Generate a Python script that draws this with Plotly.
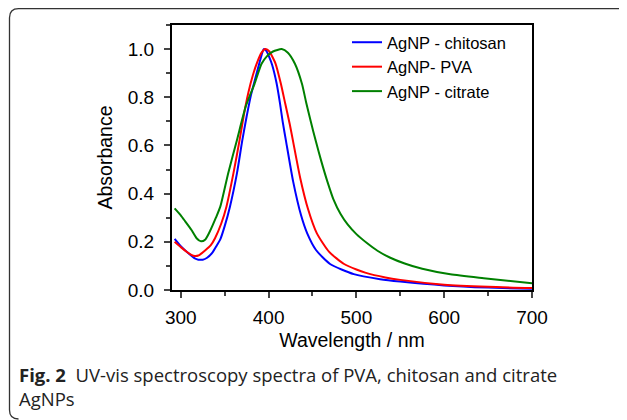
import plotly.graph_objects as go

# ---- data ----
wl_chitosan = [293, 300, 310, 316, 320, 325, 330, 336, 341, 345, 350, 356, 364, 370, 375, 380, 385, 389, 392, 394.5, 397, 401, 404, 409,
               413, 416, 420, 428, 437, 444, 454, 470, 497, 527, 550, 600, 650, 700]
abs_chitosan = [0.212, 0.182, 0.148, 0.131, 0.126, 0.126, 0.134, 0.155, 0.185, 0.21, 0.265, 0.346, 0.485, 0.62, 0.72, 0.81, 0.88, 0.935, 0.975, 1.0, 0.995, 0.965, 0.935, 0.86,
                0.775, 0.70, 0.615, 0.45, 0.31, 0.235, 0.166, 0.108, 0.066, 0.045, 0.035, 0.019, 0.010, 0.005]

wl_pva = [293, 300, 307, 312, 316, 320, 328, 334, 339, 346, 352, 360, 367, 372, 377, 382, 387, 392, 396.5, 401, 404, 408,
          414, 419, 424, 428, 436, 445, 455, 469, 486, 500, 510, 533, 550, 600, 650, 700]
abs_pva = [0.200, 0.178, 0.158, 0.146, 0.141, 0.143, 0.165, 0.185, 0.215, 0.275, 0.346, 0.485, 0.623, 0.73, 0.82, 0.89, 0.945, 0.985, 1.0, 0.99, 0.97, 0.939,
           0.856, 0.773, 0.69, 0.615, 0.465, 0.335, 0.235, 0.158, 0.108, 0.085, 0.072, 0.052, 0.042, 0.022, 0.013, 0.008]

wl_citrate = [293, 300, 305, 312, 318, 323, 328, 334, 340, 345, 354, 364, 374, 384, 392, 398, 405, 415, 422, 430, 438, 443,
              448, 454, 460, 467, 474, 482, 490, 500, 512, 524, 538, 555, 575, 607, 645, 700]
abs_citrate = [0.339, 0.31, 0.285, 0.25, 0.215, 0.202, 0.21, 0.25, 0.30, 0.346, 0.485, 0.623, 0.762, 0.856, 0.939, 0.97, 0.99, 1.0, 0.985, 0.939, 0.856, 0.775,
               0.70, 0.615, 0.535, 0.45, 0.375, 0.315, 0.272, 0.232, 0.195, 0.163, 0.135, 0.11, 0.088, 0.065, 0.049, 0.028]

series_names = ["AgNP - chitosan", "AgNP- PVA", "AgNP - citrate"]
series_colors = ["#0000FF", "#FF0000", "#008000"]

x_ticks = [300, 400, 500, 600, 700]
y_ticks = [0.0, 0.2, 0.4, 0.6, 0.8, 1.0]
y_ticklabels = ["0.0", "0.2", "0.4", "0.6", "0.8", "1.0"]

caption = "<b>Fig. 2</b>  UV-vis spectroscopy spectra of PVA, chitosan and citrate<br>AgNPs"

# ---- figure (page body has an 8px margin) ----
W, H = 619, 412
L, R, T, B = 164, 95, 17, 130
pw, ph = W - L - R, H - T - B

def px(x):
    return (x - L) / pw

def py(y):
    return (H - B - y) / ph

fig = go.Figure()
for wl, ab, name, col in zip([wl_chitosan, wl_pva, wl_citrate],
                             [abs_chitosan, abs_pva, abs_citrate],
                             series_names, series_colors):
    fig.add_trace(go.Scatter(x=wl, y=ab, mode="lines", name=name,
                             line=dict(color=col, width=2, shape="spline", smoothing=0.6)))

sans = "Liberation Sans, Arial, sans-serif"
tick_font = dict(family=sans, size=19, color="#000")
title_font = dict(family=sans, size=19.5, color="#000")

fig.update_layout(
    width=W, height=H,
    margin=dict(l=L, r=R, t=T, b=B),
    paper_bgcolor="white", plot_bgcolor="white",
    font=dict(family=sans, size=16, color="#000"),
    showlegend=True,
    legend=dict(x=px(339), y=py(17), xanchor="left", yanchor="top", bgcolor="rgba(0,0,0,0)",
                font=dict(family=sans, size=16.5, color="#000"), tracegroupgap=0),
    xaxis=dict(range=[290, 700], tickvals=x_ticks, ticks="outside", ticklen=6, tickwidth=1.5,
               showline=True, linecolor="black", linewidth=2, mirror=True, showgrid=False, zeroline=False,
               minor=dict(dtick=50, ticks="outside", ticklen=4, tickwidth=1.5, showgrid=False),
               ticklabelstandoff=3,
               title=dict(text="Wavelength / nm", standoff=7, font=title_font), tickfont=tick_font),
    yaxis=dict(range=[0, 1.1], tickvals=y_ticks, ticktext=y_ticklabels, ticks="outside", ticklen=6, tickwidth=1.5,
               showline=True, linecolor="black", linewidth=2, mirror=True, showgrid=False, zeroline=False,
               minor=dict(dtick=0.1, ticks="outside", ticklen=4, tickwidth=1.5, showgrid=False),
               ticklabelstandoff=6,
               title=dict(text="Absorbance", standoff=10, font=title_font), tickfont=tick_font),
)

# outer rounded frame (partially cropped in the reference)
x0, y0, y1, r = 1.5, 0.7, 411, 9
path = (f"M {px(W+5)},{py(y0)} L {px(x0+r)},{py(y0)} "
        f"Q {px(x0)},{py(y0)} {px(x0)},{py(y0+r)} "
        f"L {px(x0)},{py(y1-r)} Q {px(x0)},{py(y1)} {px(x0+r)},{py(y1)}")
fig.add_shape(type="path", path=path, xref="paper", yref="paper",
              line=dict(color="#333333", width=1.3))

fig.add_annotation(text=caption, xref="paper", yref="paper", x=px(8.5), y=py(352),
                   xanchor="left", yanchor="top", align="left", showarrow=False,
                   font=dict(family="Open Sans, sans-serif", size=18.5, color="#222"))

fig.write_html("out.html")
